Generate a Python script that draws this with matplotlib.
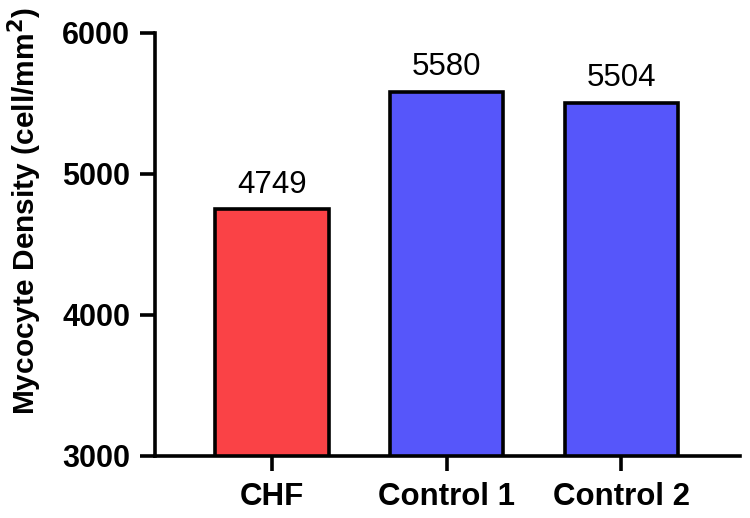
import matplotlib.pyplot as plt
import numpy as np

groups = ["CHF", "Control 1", "Control 2"]
density = [4749, 5580, 5504]
colors = ["#FA4246", "#5656FA", "#5656FA"]

plt.rcParams['font.family'] = ['Liberation Sans', 'DejaVu Sans']

fig = plt.figure(figsize=(7.5, 5.18), dpi=100)
ax = fig.add_axes([0.2067, 0.1197, 0.78, 0.8166])

x = np.arange(len(groups))
bars = ax.bar(x, density, width=0.65, color=colors, edgecolor="black",
              linewidth=2.6, zorder=2)

for xi, v in zip(x, density):
    ax.text(xi, v + 70, str(v), ha="center", va="bottom", fontsize=22.5)

ax.set_ylim(3000, 6000)
ax.set_xlim(-0.67, 2.68)
ax.set_yticks([3000, 4000, 5000, 6000])
ax.set_xticks(x)
ax.set_xticklabels(groups, fontweight="bold", fontsize=22.5)
for lab in ax.get_yticklabels():
    lab.set_fontweight("bold")
    lab.set_fontsize(22)

ax.spines["top"].set_visible(False)
ax.spines["right"].set_visible(False)
ax.spines["left"].set_linewidth(2.6)
ax.spines["bottom"].set_linewidth(2.6)
ax.tick_params(axis="both", width=2.6, length=11)
ax.tick_params(axis="y", pad=7)
ax.tick_params(axis="x", pad=8)

ax.set_ylabel("Mycocyte Density (cell/mm$^\\mathbf{2}$)", fontweight="bold",
              fontsize=21.5)
ax.yaxis.set_label_coords(-0.19, 0.58)

fig.savefig("out.png", dpi=100)
